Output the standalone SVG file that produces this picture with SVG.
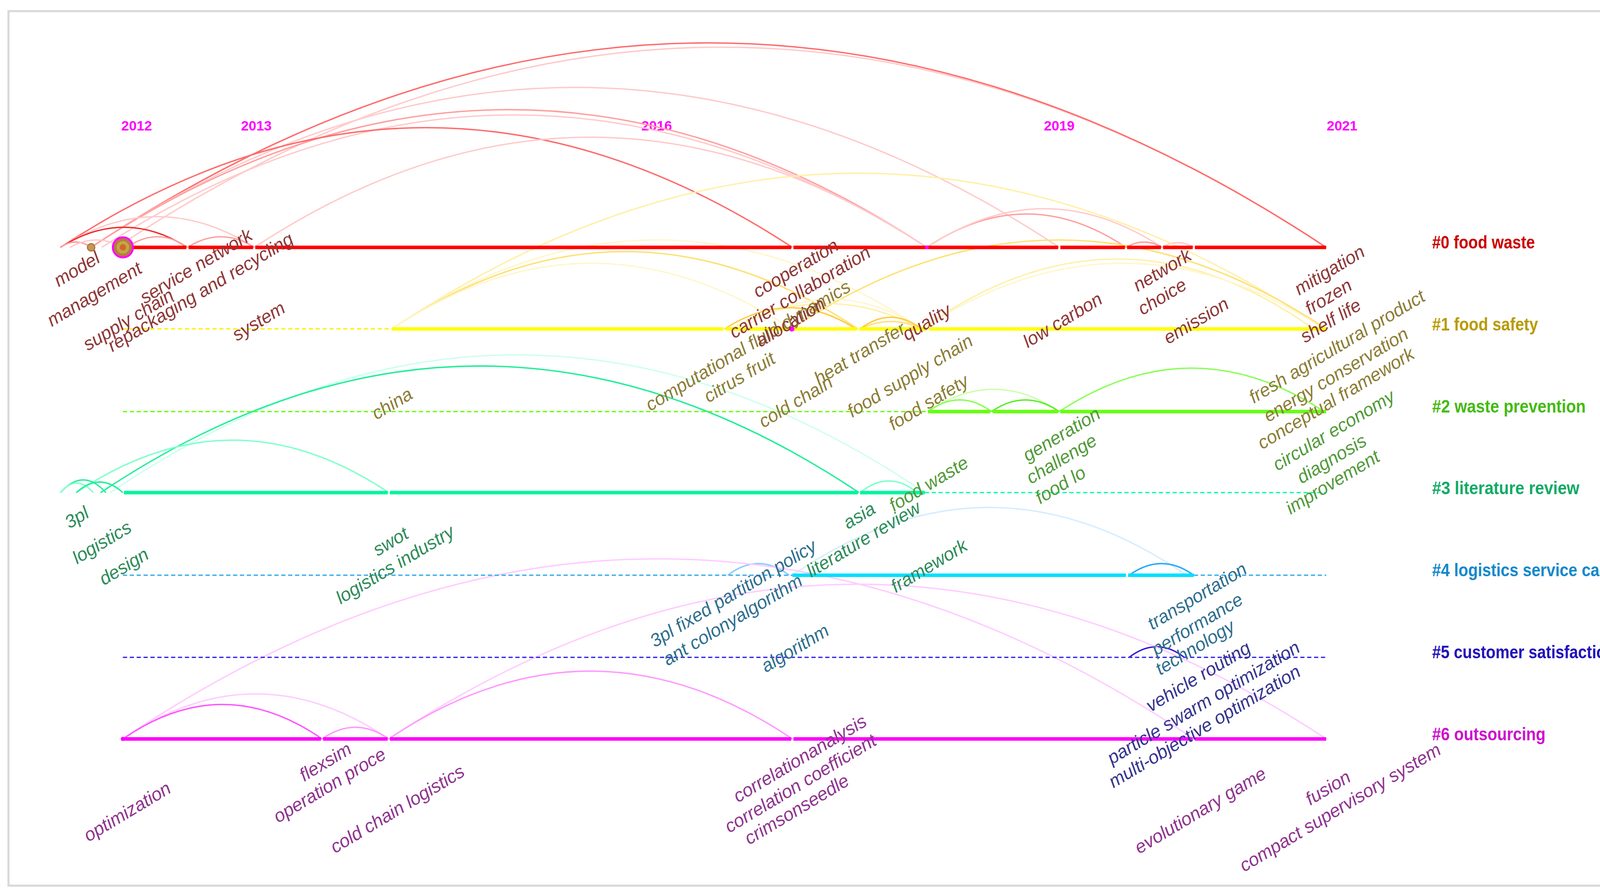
<svg xmlns="http://www.w3.org/2000/svg" width="4252" height="2291" viewBox="0 0 4252 2291">
<style>
text{font-family:'Liberation Sans',Arial,sans-serif}
.lb{font-size:17.3px;font-style:italic;text-anchor:middle}
.c0{fill:#8e3838}.c1{fill:#8c7d36}.c2{fill:#529a3a}.c3{fill:#2e8c5a}.c4{fill:#2f6f8f}.c5{fill:#35358f}.c6{fill:#8f358f}
.cl{font-size:17px;font-weight:bold}
.yr{font-size:13px;font-weight:bold;fill:#ff00ff;text-anchor:middle}
.arc path{fill:none;stroke-width:1.3}
.a0x{stroke:#ee2a2a}.a0s{stroke:#ff6b6b}.a0m{stroke:#ff9f9f}.a0l{stroke:#ffcaca}
.a1s{stroke:#ffcc40}.a1m{stroke:#ffe070}.a1l{stroke:#fff0a8}.a1x{stroke:#fff6cc}
.a2s{stroke:#55ee22}.a2m{stroke:#88ff55}.a2l{stroke:#ccffaa}
.a3s{stroke:#22ee99}.a3m{stroke:#80ffcc}.a3l{stroke:#ccfff0}
.a4s{stroke:#22aaff}.a4m{stroke:#88ccff}.a4l{stroke:#d6ecff}
.a5s{stroke:#3311dd}
.a6s{stroke:#ff55ff}.a6m{stroke:#ff99ff}.a6l{stroke:#ffccff}
.tl{fill:none;stroke-width:3.3}
.dl{fill:none;stroke-width:1.2;stroke-dasharray:4 2.5}
</style>
<rect width="4252" height="2291" fill="#ffffff"/>
<g transform="scale(2.71173)">
<rect x="8" y="10.5" width="1551" height="825.5" fill="none" stroke="#d9d9d9" stroke-width="2"/>

<g id="years">
<text class="yr" x="129" y="123">2012</text>
<text class="yr" x="242" y="123">2013</text>
<text class="yr" x="620" y="123">2016</text>
<text class="yr" x="1000" y="123">2019</text>
<text class="yr" x="1267" y="123">2021</text>
</g>

<g id="connectors" class="arc">
<path class="a0l" d="M110 233.5Q681 -144.5 1252 233.5"/>
<path class="a0s" d="M86 233.5Q669 -152.5 1252 233.5"/>
<path class="a0l" d="M86 233.5Q543 -68.5 1000 233.5"/>
<path class="a0m" d="M86 233.5Q480.5 -26.5 875 233.5"/>
<path class="a0l" d="M96 233.5Q485.5 -16.5 875 233.5"/>
<path class="a0s" d="M57 233.5Q402.5 7.5 748 233.5"/>
<path class="a0l" d="M240 233.5Q557.5 25.5 875 233.5"/>
<path class="a0l" d="M57 233.5Q148.5 175.5 240 233.5"/>
<path class="a0x" d="M57 233.5Q117 195.5 177 233.5"/>
<path class="a0m" d="M120 233.5Q148.5 213.5 177 233.5"/>
<path class="a0m" d="M177 233.5Q208.5 213.5 240 233.5"/>
<path class="a0m" d="M57 233.5Q71.5 223.5 86 233.5"/>
<path class="a0l" d="M66 233.5Q91 219.5 116 233.5"/>
<path class="a0m" d="M875 233.5Q969 170.5 1063 233.5"/>
<path class="a0l" d="M875 233.5Q986 160.5 1097 233.5"/>
<path class="a0m" d="M1063 233.5Q1080 223.5 1097 233.5"/>
<path class="a0l" d="M1097 233.5Q1112 224.5 1127 233.5"/>

<path class="a1l" d="M370 310.5Q810 16.5 1250 310.5"/>
<path class="a1x" d="M370 310.5Q620 142.5 870 310.5"/>
<path class="a1m" d="M370 310.5Q590 164.5 810 310.5"/>
<path class="a1x" d="M370 310.5Q558.5 186.5 747 310.5"/>
<path class="a1m" d="M747 310.5Q999.5 142.5 1252 310.5"/>
<path class="a1l" d="M870 310.5Q1055 178.5 1240 310.5"/>
<path class="a1x" d="M870 310.5Q1060 186.5 1250 310.5"/>
<path class="a1x" d="M700 310.5Q785 254.5 870 310.5"/>
<path class="a1l" d="M690 310.5Q780 262.5 870 310.5"/>
<path class="a1s" d="M684 310.5Q746 270.5 808 310.5"/>
<path class="a1m" d="M812 310.5Q841 296.5 870 310.5"/>
<path class="a1s" d="M812 310.5Q841 288.5 870 310.5"/>

<path class="a2l" d="M876 388.5Q938 346.5 1000 388.5"/>
<path class="a2m" d="M876 388.5Q906 366.5 936 388.5"/>
<path class="a2s" d="M936 388.5Q968 366.5 1000 388.5"/>
<path class="a2m" d="M1000 388.5Q1125 306.5 1250 388.5"/>

<path class="a3l" d="M104 465Q488.5 205 873 465"/>
<path class="a3s" d="M95 465Q453 226 811 465"/>
<path class="a3m" d="M72 465Q219.5 366 367 465"/>
<path class="a3s" d="M57 465Q78.5 441 100 465"/>
<path class="a3m" d="M57 465Q72.5 447 88 465"/>
<path class="a3s" d="M72 465Q94 445 116 465"/>
<path class="a3m" d="M812 465Q839 443 866 465"/>

<path class="a4m" d="M687 543Q716 521 745 543"/>
<path class="a4l" d="M748 543Q934 415 1120 543"/>
<path class="a4s" d="M1066 543Q1096.5 521 1127 543"/>

<path class="a5s" d="M1066 620.5Q1092 600.5 1118 620.5"/>

<path class="a6l" d="M116 697.5Q621.5 357.5 1127 697.5"/>
<path class="a6l" d="M367 697.5Q809.5 405.5 1252 697.5"/>
<path class="a6m" d="M367 697.5Q557.5 569.5 748 697.5"/>
<path class="a6l" d="M116 697.5Q241.5 612.5 367 697.5"/>
<path class="a6s" d="M116 697.5Q210 632.5 304 697.5"/>
<path class="a6m" d="M304 697.5Q335.5 675.5 367 697.5"/>
</g>

<g id="cluster-0">
<path class="tl" stroke="#ff0000" d="M126 233.5H176M178 233.5H239M241 233.5H747M749 233.5H874M876 233.5H999M1001 233.5H1062M1064 233.5H1096M1098 233.5H1126M1128 233.5H1252"/>
<text class="cl" x="1352" y="234.5" fill="#cc0000" textLength="97" lengthAdjust="spacingAndGlyphs">#0 food waste</text>
</g>
<g id="cluster-1">
<path class="dl" stroke="#ffee00" d="M116 310.5H370"/>
<path class="tl" stroke="#ffff00" d="M370 310.5H683M685 310.5H809M811 310.5H875M877 310.5H1252"/>
<text class="cl" x="1352" y="312" fill="#b89b00" textLength="100" lengthAdjust="spacingAndGlyphs">#1 food safety</text>
</g>
<g id="cluster-2">
<path class="dl" stroke="#66ff00" d="M116 388.5H876"/>
<path class="tl" stroke="#66ff11" d="M876 388.5H935M937 388.5H999M1001 388.5H1252"/>
<text class="cl" x="1352" y="389.5" fill="#44bb11" textLength="145" lengthAdjust="spacingAndGlyphs">#2 waste prevention</text>
</g>
<g id="cluster-3">
<path class="tl" stroke="#00f5a0" d="M117 465H366M368 465H810M812 465H873"/>
<path class="dl" stroke="#00ffaa" d="M873 465H1252"/>
<text class="cl" x="1352" y="466.5" fill="#11aa66" textLength="139" lengthAdjust="spacingAndGlyphs">#3 literature review</text>
</g>
<g id="cluster-4">
<path class="dl" stroke="#33aaee" d="M116 543H748M1127 543H1252"/>
<path class="tl" stroke="#00e0ff" d="M748 543H1063M1065 543H1127"/>
<text class="cl" x="1352" y="544" fill="#1188cc" textLength="201" lengthAdjust="spacingAndGlyphs">#4 logistics service capacity</text>
</g>
<g id="cluster-5">
<path class="dl" stroke="#3322ee" d="M116 620.5H1252"/>
<text class="cl" x="1352" y="621.5" fill="#2211bb" textLength="173" lengthAdjust="spacingAndGlyphs">#5 customer satisfaction</text>
</g>
<g id="cluster-6">
<path class="tl" stroke="#ff00ff" stroke-width="3" d="M116 697.5H303M305 697.5H366M368 697.5H747M749 697.5H1126M1128 697.5H1252"/>
<text class="cl" x="1352" y="699" fill="#cc11cc" textLength="107" lengthAdjust="spacingAndGlyphs">#6 outsourcing</text>
</g>

<g id="node-marks">
<circle cx="875" cy="233.5" r="1.8" fill="#ff00ff"/>
<circle cx="747.5" cy="310.5" r="2.5" fill="#ff00ff"/>
<circle cx="116" cy="697.5" r="2" fill="#ff00ff"/>
</g>

<g id="n-model"><circle cx="86" cy="233.5" r="3.5" fill="#c39a55" stroke="#a8743c" stroke-width="1"/><text class="lb c0" transform="translate(72.4 253.8) rotate(-31)" dy="0.35em">model</text></g>
<g id="n-management"><circle cx="116" cy="233.5" r="9.5" fill="#b57a45" stroke="#ff00ff" stroke-width="1.8"/><circle cx="116" cy="233.5" r="6" fill="#c8a444"/><circle cx="116" cy="233.5" r="3" fill="#c96a2a"/><text class="lb c0" transform="translate(89 277.5) rotate(-31)" dy="0.35em">management</text></g>
<g id="n-service-network"><text class="lb c0" transform="translate(185 251) rotate(-31)" dy="0.35em">service network</text></g>
<g id="n-supply-chain"><text class="lb c0" transform="translate(121 301.5) rotate(-31)" dy="0.35em">supply chain</text></g>
<g id="n-repackaging"><text class="lb c0" transform="translate(189 275.6) rotate(-31)" dy="0.35em">repackaging and recycling</text></g>
<g id="n-system"><text class="lb c0" transform="translate(244 303) rotate(-31)" dy="0.35em">system</text></g>
<g id="n-cooperation"><text class="lb c0" transform="translate(751 253) rotate(-31)" dy="0.35em">cooperation</text></g>
<g id="n-carrier-collaboration"><text class="lb c0" transform="translate(755 275.6) rotate(-31)" dy="0.35em">carrier collaboration</text></g>
<g id="n-computational-fluid-dynamics"><text class="lb c1" transform="translate(706 326) rotate(-31)" dy="0.35em">computational fluid dynamics</text></g>
<g id="n-allocation"><text class="lb c0" transform="translate(746 304) rotate(-31)" dy="0.35em">allocation</text></g>
<g id="n-quality"><text class="lb c0" transform="translate(874.6 304) rotate(-31)" dy="0.35em">quality</text></g>
<g id="n-network"><text class="lb c0" transform="translate(1097 254.8) rotate(-31)" dy="0.35em">network</text></g>
<g id="n-choice"><text class="lb c0" transform="translate(1097 279.8) rotate(-31)" dy="0.35em">choice</text></g>
<g id="n-low-carbon"><text class="lb c0" transform="translate(1003 302) rotate(-31)" dy="0.35em">low carbon</text></g>
<g id="n-emission"><text class="lb c0" transform="translate(1129 302.5) rotate(-31)" dy="0.35em">emission</text></g>
<g id="n-mitigation"><text class="lb c0" transform="translate(1255 254.8) rotate(-31)" dy="0.35em">mitigation</text></g>
<g id="n-frozen"><text class="lb c0" transform="translate(1254 279.8) rotate(-31)" dy="0.35em">frozen</text></g>
<g id="n-shelf-life"><text class="lb c0" transform="translate(1256 302.5) rotate(-31)" dy="0.35em">shelf life</text></g>

<g id="n-citrus-fruit"><text class="lb c1" transform="translate(698 356) rotate(-31)" dy="0.35em">citrus fruit</text></g>
<g id="n-heat-transfer"><text class="lb c1" transform="translate(811.5 333.5) rotate(-31)" dy="0.35em">heat transfer</text></g>
<g id="n-cold-chain"><text class="lb c1" transform="translate(751 379) rotate(-31)" dy="0.35em">cold chain</text></g>
<g id="n-food-supply-chain"><text class="lb c1" transform="translate(859 354.6) rotate(-31)" dy="0.35em">food supply chain</text></g>
<g id="n-food-safety"><text class="lb c1" transform="translate(876.4 379.6) rotate(-31)" dy="0.35em">food safety</text></g>
<g id="n-china"><text class="lb c1" transform="translate(370 380.8) rotate(-31)" dy="0.35em">china</text></g>
<g id="n-fresh-agricultural-product"><text class="lb c1" transform="translate(1262 327) rotate(-31)" dy="0.35em">fresh agricultural product</text></g>
<g id="n-energy-conservation"><text class="lb c1" transform="translate(1261 353.5) rotate(-31)" dy="0.35em">energy conservation</text></g>
<g id="n-conceptual-framework"><text class="lb c1" transform="translate(1261 375.8) rotate(-31)" dy="0.35em">conceptual framework</text></g>

<g id="n-generation"><text class="lb c2" transform="translate(1002 409.8) rotate(-31)" dy="0.35em">generation</text></g>
<g id="n-challenge"><text class="lb c2" transform="translate(1002 433) rotate(-31)" dy="0.35em">challenge</text></g>
<g id="n-food-lo"><text class="lb c2" transform="translate(1001 457.6) rotate(-31)" dy="0.35em">food lo</text></g>
<g id="n-circular-economy"><text class="lb c2" transform="translate(1259 406) rotate(-31)" dy="0.35em">circular economy</text></g>
<g id="n-diagnosis"><text class="lb c2" transform="translate(1257 433) rotate(-31)" dy="0.35em">diagnosis</text></g>
<g id="n-improvement"><text class="lb c2" transform="translate(1258 455) rotate(-31)" dy="0.35em">improvement</text></g>
<g id="n-food-waste"><text class="lb c2" transform="translate(876.6 456.5) rotate(-31)" dy="0.35em">food waste</text></g>

<g id="n-3pl"><text class="lb c3" transform="translate(72.3 488.3) rotate(-31)" dy="0.35em">3pl</text></g>
<g id="n-logistics"><text class="lb c3" transform="translate(96 511.8) rotate(-31)" dy="0.35em">logistics</text></g>
<g id="n-design"><text class="lb c3" transform="translate(116.8 534.6) rotate(-31)" dy="0.35em">design</text></g>
<g id="n-swot"><text class="lb c3" transform="translate(368.6 511) rotate(-31)" dy="0.35em">swot</text></g>
<g id="n-logistics-industry"><text class="lb c3" transform="translate(372.8 532.8) rotate(-31)" dy="0.35em">logistics industry</text></g>
<g id="n-asia"><text class="lb c3" transform="translate(811 486.5) rotate(-31)" dy="0.35em">asia</text></g>
<g id="n-literature-review"><text class="lb c3" transform="translate(815 508.8) rotate(-31)" dy="0.35em">literature review</text></g>
<g id="n-framework"><text class="lb c3" transform="translate(877 534) rotate(-31)" dy="0.35em">framework</text></g>

<g id="n-3pl-fixed-partition-policy"><text class="lb c4" transform="translate(692 560) rotate(-31)" dy="0.35em">3pl fixed partition policy</text></g>
<g id="n-ant-colonyalgorithm"><text class="lb c4" transform="translate(691.5 585) rotate(-31)" dy="0.35em">ant colonyalgorithm</text></g>
<g id="n-algorithm"><text class="lb c4" transform="translate(750.4 611.7) rotate(-31)" dy="0.35em">algorithm</text></g>
<g id="n-transportation"><text class="lb c4" transform="translate(1130 562.5) rotate(-31)" dy="0.35em">transportation</text></g>
<g id="n-performance"><text class="lb c4" transform="translate(1130 589) rotate(-31)" dy="0.35em">performance</text></g>
<g id="n-technology"><text class="lb c4" transform="translate(1128 611) rotate(-31)" dy="0.35em">technology</text></g>

<g id="n-vehicle-routing"><text class="lb c5" transform="translate(1131 638.5) rotate(-31)" dy="0.35em">vehicle routing</text></g>
<g id="n-particle-swarm-optimization"><text class="lb c5" transform="translate(1136 663) rotate(-31)" dy="0.35em">particle swarm optimization</text></g>
<g id="n-multi-objective-optimization"><text class="lb c5" transform="translate(1137 685.5) rotate(-31)" dy="0.35em">multi-objective optimization</text></g>

<g id="n-optimization"><text class="lb c6" transform="translate(120 766) rotate(-31)" dy="0.35em">optimization</text></g>
<g id="n-flexsim"><text class="lb c6" transform="translate(307 719) rotate(-31)" dy="0.35em">flexsim</text></g>
<g id="n-operation-proce"><text class="lb c6" transform="translate(311 741) rotate(-31)" dy="0.35em">operation proce</text></g>
<g id="n-cold-chain-logistics"><text class="lb c6" transform="translate(375 763.5) rotate(-31)" dy="0.35em">cold chain logistics</text></g>
<g id="n-correlationanalysis"><text class="lb c6" transform="translate(755 715.8) rotate(-31)" dy="0.35em">correlationanalysis</text></g>
<g id="n-correlation-coefficient"><text class="lb c6" transform="translate(755.5 739.3) rotate(-31)" dy="0.35em">correlation coefficient</text></g>
<g id="n-crimsonseedle"><text class="lb c6" transform="translate(752 763.8) rotate(-31)" dy="0.35em">crimsonseedle</text></g>
<g id="n-evolutionary-game"><text class="lb c6" transform="translate(1133 764.8) rotate(-31)" dy="0.35em">evolutionary game</text></g>
<g id="n-fusion"><text class="lb c6" transform="translate(1253.5 743.5) rotate(-31)" dy="0.35em">fusion</text></g>
<g id="n-compact-supervisory-system"><text class="lb c6" transform="translate(1265 762) rotate(-31)" dy="0.35em">compact supervisory system</text></g>
</g>
</svg>
